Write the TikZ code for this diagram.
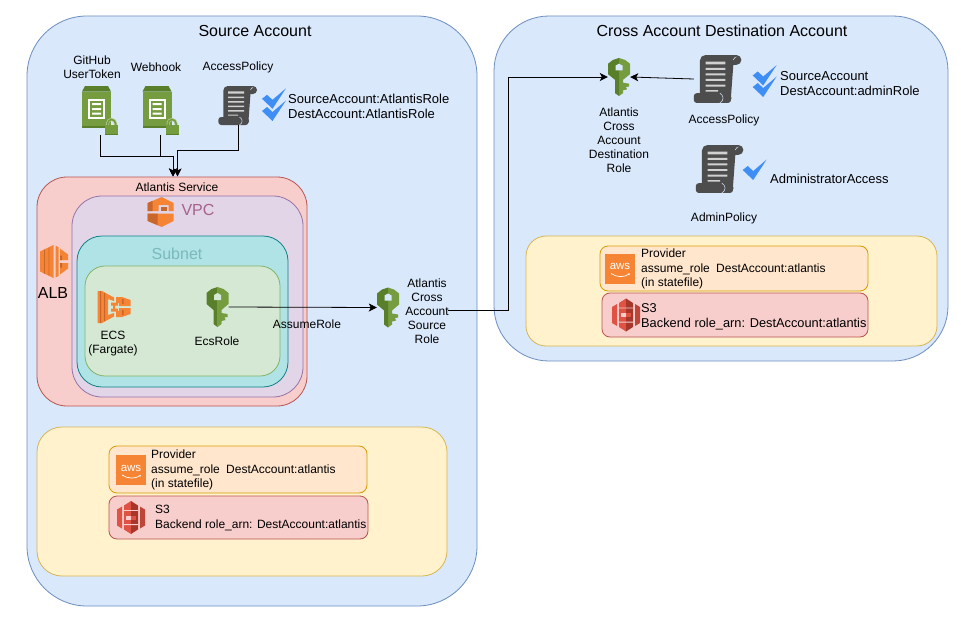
\documentclass[tikz,border=0pt]{standalone}
\usepackage{fontspec}
\setmainfont{Liberation Sans}
\usetikzlibrary{arrows.meta}
\definecolor{bluefill}{HTML}{DAE8FC}\definecolor{bluedraw}{HTML}{6C8EBF}
\definecolor{redfill}{HTML}{F8CECC}\definecolor{reddraw}{HTML}{B85450}
\definecolor{purfill}{HTML}{E1D5E7}\definecolor{purdraw}{HTML}{9673A6}
\definecolor{tealfill}{HTML}{B0E3E6}\definecolor{tealdraw}{HTML}{0E8088}
\definecolor{grnfill}{HTML}{D5E8D4}\definecolor{grndraw}{HTML}{82B366}
\definecolor{yelfill}{HTML}{FFF2CC}\definecolor{yeldraw}{HTML}{D6B656}
\definecolor{orgfill}{HTML}{FFE6CC}\definecolor{orgdraw}{HTML}{D79B00}
\definecolor{awsorange}{HTML}{F58534}\definecolor{awsdark}{HTML}{C8662B}
\definecolor{keydark}{HTML}{5A7F2B}\definecolor{keylight}{HTML}{759C3E}
\definecolor{scrollc}{HTML}{4D4D4D}\definecolor{checkc}{HTML}{3F8EF5}
\definecolor{s3red}{HTML}{E05243}\definecolor{s3dark}{HTML}{A8372B}
\tikzset{
  x=1pt,y=-1pt,
  every node/.style={font=\fontsize{12}{14}\selectfont,inner sep=0pt,align=center,text=black},
  bigtext/.style={font=\fontsize{16}{18}\selectfont},
  listtext/.style={font=\fontsize{13}{15}\selectfont,align=left,anchor=west},
  panel/.style={draw=#1draw,fill=#1fill,line width=0.8pt},
  lbl/.style={align=left,anchor=west,font=\fontsize{12}{14.5}\selectfont},
  widelbl/.style={align=left,anchor=west,font=\fontsize{12.8}{14.5}\selectfont},
  flow/.style={draw=black,line width=0.8pt,-{Stealth[length=8pt,width=8pt,inset=2pt]}},
  pics/keyicon/.style={code={
    \fill[keylight] (0,-20)--(6,-18)--(11,-14)--(11,-3)--(4,3)--(4,6)--(10,7)--(10,10)--(7,10.5)--(8,13)--(4,14)--(4,17)--(0,20)--cycle;
    \fill[keydark] (0,-20)--(-6,-18)--(-11,-14)--(-11,-3)--(-4,3)--(-4,17)--(0,20)--cycle;
    \fill[#1] (-3.5,-12)--(0,-14)--(3.5,-12)--(3.5,-7)--(-3.5,-7)--cycle;
  }},
  pics/docicon/.style={code={
    \fill[keydark] (-18,-19)--(-15,-24.5)--(8,-24.5)--(11,-19)--cycle;
    \fill[keylight] (-18,-18.5) rectangle (11,16);
    \fill[keydark] (-18,15.5) rectangle (11,17);
    \fill[white] (-12,-11.5) rectangle (5,8.5);
    \fill[keylight] (-10,-9.5) rectangle (3,6.5);
    \fill[white] (-8,-7.5) rectangle (1,-5.5) (-8,-2.5) rectangle (1,-0.5) (-8,2) rectangle (1,4);
    \draw[keylight!55!white,line width=3pt] (7.5,15) -- (7.5,13) arc[start angle=180,end angle=360,radius=4] -- (15.5,15);
    \draw[keylight,line width=1.5pt] (7.5,15) -- (7.5,13) arc[start angle=180,end angle=360,radius=4] -- (15.5,15);
    \fill[keylight] (5,14) rectangle (18,23.5);
    \fill[keydark] (5,23.5) rectangle (18,24.8);
  }},
  pics/scrollicon/.style={code={
    \fill[scrollc] (-14.7,14)--(-14.7,-15) arc[start angle=180,end angle=270,radius=4.5]--(15,-19.5)--(12.5,-12)--(10.5,15)--cycle;
    \fill[scrollc] (15,-19.5) arc[start angle=-90,end angle=90,radius=4]--(11.5,-11.5)--(11.5,-19.5)--cycle;
    \fill[scrollc,rounded corners=3pt] (-19.7,11.5) rectangle (10.5,19.5);
    \fill[scrollc] (7,15.5) circle[radius=4];
    \draw[bluefill,line width=0.5pt] (1.5,11.5) .. controls (5,13.5) and (5,17.5) .. (1.5,19.5);
    \draw[bluefill,line width=0.5pt] (12.5,-15.5) .. controls (13,-17) and (14,-18) .. (15,-18);
    \fill[white!82!black] (-10,-14.2) rectangle (6,-11.8) (-10,-9) rectangle (6,-7.4) (-10,-4.5) rectangle (6,-2.9) (-10,0) rectangle (6,1.6) (-10,4.5) rectangle (6,6.1) (-10,9) rectangle (0,10.2);
  }},
  pics/checkicon/.style={code={
    \fill[checkc] (-12,0)--(-7,-4)--(-1.5,1)--(12,-10.5)--(-1.5,10)--cycle;
  }},
  pics/ecsicon/.style={code={
    \fill[awsorange] (-16.5,-16)--(-12,-16)--(0,-9.5)--(0,-6)--(-6,-8)--(-6,8)--(0,6)--(0,9.5)--(-12,16)--(-16.5,16)--cycle;
    \fill[awsdark] (-14,-16) rectangle (-12.8,16) (-10,-14) rectangle (-9,14);
    \fill[awsorange] (-3,-4.5) rectangle (4,-1.5) (-3,1.5) rectangle (4,4.5) (-1,-2) rectangle (1,2);
    \fill[awsorange] (2,-10) rectangle (8,-4) (2,4) rectangle (8,10);
    \fill[awsorange] (8,-10)--(16.5,-7)--(16.5,-1)--(5,-1)--(5,-4)--(8,-4)--cycle;
    \fill[awsorange] (8,10)--(16.5,7)--(16.5,1)--(5,1)--(5,4)--(8,4)--cycle;
    \fill[awsdark] (8,-8) rectangle (9.5,-3) (8,3) rectangle (9.5,8);
  }},
  pics/vpcicon/.style={code={
    \fill[awsorange] (-13,-9)--(1,-15)--(13,-9)--(13,-1)--(8,-1)--(8,-7)--(-2,-7)--(-2,-1)--(-13,-1)--cycle;
    \fill[awsorange] (-13,1.5)--(13,1.5)--(13,9)--(1,15)--(-13,9)--cycle;
    \fill[awsdark] (-13,-9)--(-8,-11.2)--(-8,-1)--(-13,-1)--cycle (-13,1.5)--(-3,1.5)--(-3,13.2)--(-13,9)--cycle;
    \fill[awsdark] (0,-5) rectangle (6,-1);
  }},
  pics/albicon/.style={code={
    \fill[awsorange] (-14,-10)--(-0.5,-16.5)--(-0.5,16.5)--(-14,10)--cycle;
    \fill[awsdark] (-10,-12) rectangle (-9.2,12) (-5.5,-14) rectangle (-4.7,14);
    \fill[awsorange] (1.5,-16)--(4.5,-14.5)--(4.5,14.5)--(1.5,16)--cycle;
    \fill[awsorange] (6,-13)--(14,-7)--(14,-1.5)--(6,-1.5)--cycle (6,1.5)--(14,1.5)--(14,7)--(6,13)--cycle;
    \fill[awsdark] (6,-6) rectangle (8,-1.5) (6,1.5) rectangle (8,6);
  }},
  pics/s3icon/.style={code={
    \fill[s3red] (-14,-8)--(-9,-11)--(-9,11)--(-14,8)--cycle;
    \fill[s3red!85!black] (14,-8)--(9,-11)--(9,11)--(14,8)--cycle;
    \fill[s3red] (-7,-12)--(0,-16.5)--(0,16.5)--(-7,12)--cycle;
    \fill[s3dark] (0,-16.5)--(7,-12)--(7,12)--(0,16.5)--cycle;
    \fill[redfill] (-5,-2) rectangle (0,2);
    \fill[s3red] (0,-2) rectangle (5,2);
    \fill[redfill] (-7,-7.5) rectangle (7,-6.7) (-7,6.7) rectangle (7,7.5);
  }},
  pics/awsicon/.style={code={
    \fill[awsorange] (-15,-15) rectangle (15,15);
    \node[text=white,font=\fontsize{11.5}{11.5}\selectfont] at (0,-2) {aws};
    \draw[white,line width=0.7pt,-{Stealth[length=2pt,width=2pt]}] (-9,5) .. controls (-3,9) and (4,9) .. (10,5);
  }},
}
\begin{document}
\begin{tikzpicture}
\useasboundingbox (0,0) rectangle (961,618);
\fill[white] (0,0) rectangle (961,618);
% panels
\node[panel=blue,rounded corners=60pt,minimum width=450pt,minimum height=590pt] (src) at (252,311) {};
\node[panel=blue,rounded corners=55pt,minimum width=454pt,minimum height=345pt] (dst) at (721,188.5) {};
\node[panel=red,rounded corners=30pt,minimum width=270pt,minimum height=229pt] (svc) at (172,291.5) {};
\node[panel=pur,rounded corners=30pt,minimum width=231pt,minimum height=201pt] (vpc) at (187.5,296.5) {};
\node[panel=teal,rounded corners=25pt,minimum width=211pt,minimum height=151pt] (subnet) at (182.5,311.5) {};
\node[panel=grn,rounded corners=20pt,minimum width=195pt,minimum height=110pt] (app) at (182.5,321) {};
\node[panel=yel,rounded corners=25pt,minimum width=410pt,minimum height=149pt] (ysrc) at (242,501.5) {};
\node[panel=org,rounded corners=8pt,minimum width=258pt,minimum height=47pt] (provsrc) at (238,469.5) {};
\node[panel=red,rounded corners=8pt,minimum width=259pt,minimum height=43pt] (s3src) at (238.5,517.5) {};
\node[panel=yel,rounded corners=20pt,minimum width=411pt,minimum height=110pt] (ydst) at (731.5,291) {};
\node[panel=org,rounded corners=8pt,minimum width=268pt,minimum height=45pt] (provdst) at (734,268.5) {};
\node[panel=red,rounded corners=8pt,minimum width=266pt,minimum height=44pt] (s3dst) at (735,315) {};
% titles
\node[bigtext] (t1) at (255,31) {Source Account};
\node[bigtext] (t2) at (722,31) {Cross Account Destination Account};
\node (t3) at (177,187) {Atlantis Service};
\node[bigtext,text=purdraw!85!red] (t4) at (198,210) {VPC};
\node[bigtext,text=tealdraw!55!white] (t5) at (177,254) {Subnet};
\node[bigtext] (t6) at (53,293) {ALB};
% source icons
\node[minimum width=36pt,minimum height=49pt] (docA) at (100,110.5) {};
\pic at (100,110.5) {docicon};
\node[minimum width=35pt,minimum height=49pt] (docB) at (160.5,110.5) {};
\pic at (160.5,110.5) {docicon};
\node[minimum width=39pt,minimum height=39pt] (polA) at (238,105.5) {};
\pic at (238,105.5) {scrollicon};
\pic at (274,98.8) {checkicon};
\pic at (274,111) {checkicon};
\node (lA) at (92,67) {GitHub\\UserToken};
\node (lB) at (156,67) {Webhook};
\node (lC) at (238,67) {AccessPolicy};
\node[listtext] (lD) at (288,106.5) {SourceAccount:AtlantisRole\\DestAccount:AtlantisRole};
\pic at (54,261.5) {albicon};
\pic at (160.7,212) {vpcicon};
\pic at (114,307) {ecsicon};
\node (lE) at (113,344) {ECS\\(Fargate)};
\node[minimum width=22pt,minimum height=40pt] (keyE) at (217.5,307) {};
\pic at (217.5,307) {keyicon=grnfill};
\node (lF) at (217,341) {EcsRole};
\node[minimum width=22pt,minimum height=40pt] (keyS) at (388,307.5) {};
\pic at (388,307.5) {keyicon=bluefill};
\node (lG) at (427,311) {Atlantis\\Cross\\Account\\Source\\Role};
\node (lH) at (307,324) {AssumeRole};
% bottom left
\pic at (131,470) {awsicon};
\node[lbl] (lI) at (151,470) {Provider\\assume\_role\hspace{0.25em} DestAccount:atlantis\\(in statefile)};
\pic at (131,517.5) {s3icon};
\node[lbl] (lJ) at (155,518) {S3\\Backend role\_arn: DestAccount:atlantis};
% destination
\node[minimum width=22pt,minimum height=38pt] (keyD) at (619,77) {};
\pic[yscale=0.95] at (619,77) {keyicon=bluefill};
\node (lK) at (619,140) {Atlantis\\Cross\\Account\\Destination\\Role};
\node[minimum width=48pt,minimum height=48pt] (polB) at (718,79) {};
\pic[scale=1.23] at (718,79) {scrollicon};
\pic at (764.7,75.5) {checkicon};
\pic at (764.7,87) {checkicon};
\node[listtext] (lL) at (780,84) {SourceAccount\\DestAccount:adminRole};
\node (lM) at (724,120) {AccessPolicy};
\node[minimum width=48pt,minimum height=48pt] (polC) at (720,169) {};
\pic[scale=1.23] at (720,169) {scrollicon};
\pic at (754.7,170) {checkicon};
\node[listtext] (lN) at (770,179) {AdministratorAccess};
\node (lO) at (724,218) {AdminPolicy};
\pic at (620,268.5) {awsicon};
\node[lbl] (lP) at (641,269) {Provider\\assume\_role\hspace{0.25em} DestAccount:atlantis\\(in statefile)};
\pic at (626,315) {s3icon};
\node[widelbl] (lQ) at (641,317) {S3\\Backend role\_arn: DestAccount:atlantis};
% connectors
\coordinate (inA) at (173,176.5);
\coordinate (inB) at (177.5,176.5);
\draw[flow] (docA.south) -- ++(0,21) -| (inA);
\draw[flow] (docB.south) -- ++(0,21) -| (inA);
\draw[flow] (polA.south) -- ++(0,25.5) -| (inB);
\draw[flow] (keyE.east) -- (keyS.west);
\coordinate (srcOut) at (448,310);
\draw[flow] (srcOut) -- (508,310) |- (keyD.west);
\draw[flow] (polB.west) -- (keyD.east);
\end{tikzpicture}
\end{document}
